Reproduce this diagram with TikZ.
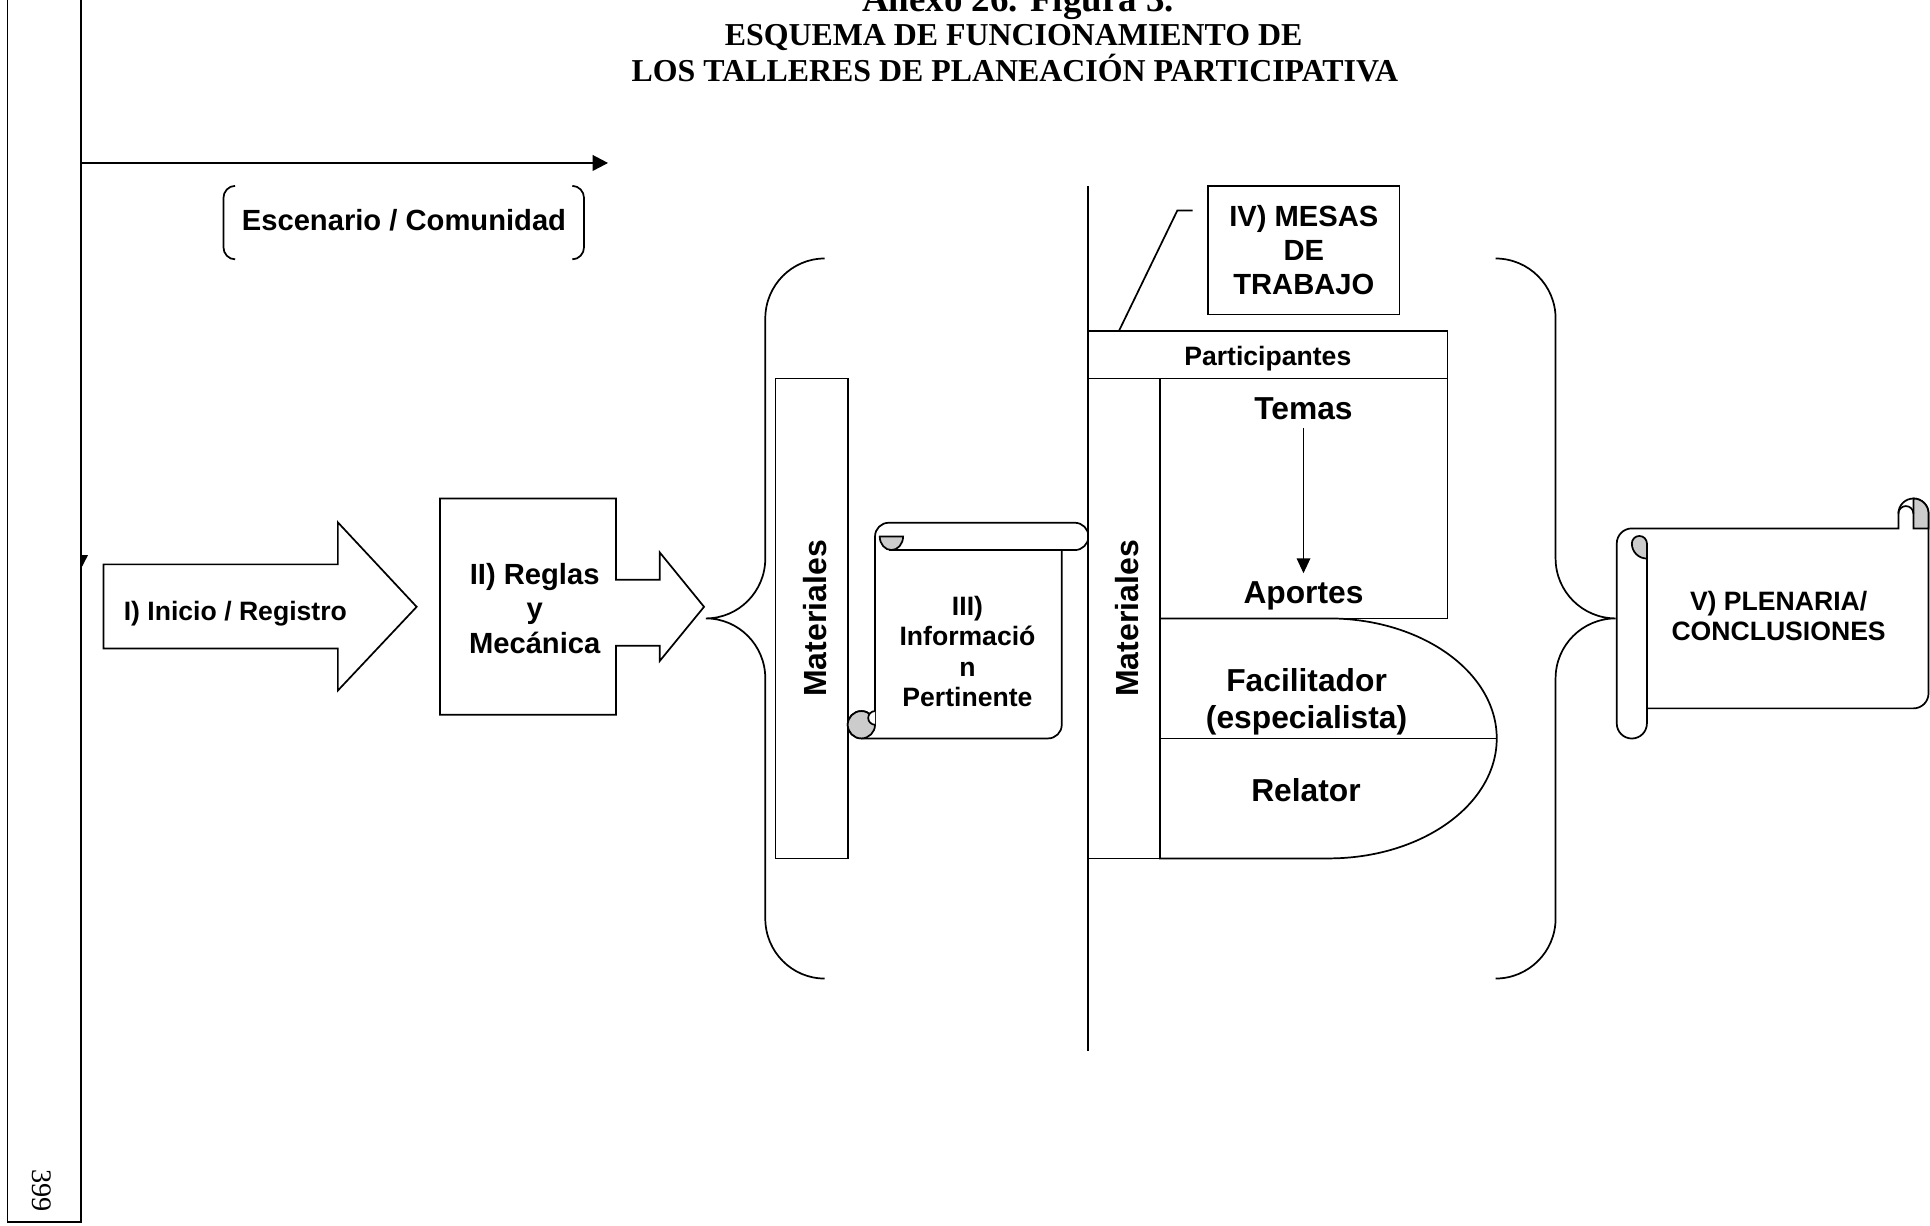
\documentclass[tikz,border=0pt]{standalone}
\usepackage{fontspec}
\setmainfont{Liberation Serif}
\setsansfont{Liberation Sans}
\usetikzlibrary{arrows.meta}

\begin{document}
\begin{tikzpicture}[
      x=1pt, y=-1pt,
      line width=1.4pt,
      >={Triangle[length=12.5pt,width=12.7pt]},
      caja/.style={draw,fill=white},
      rollo/.style={draw,fill=black!20},
      texto/.style={font=\sffamily\bfseries\fontsize{21.6}{24.6}\selectfont,align=center,inner sep=0pt},
      texto medio/.style={texto,font=\sffamily\bfseries\fontsize{23.7}{27.7}\selectfont},
      texto grande/.style={texto,font=\sffamily\bfseries\fontsize{25.8}{29.6}\selectfont},
      texto lateral/.style={texto,font=\sffamily\bfseries\fontsize{26}{30}\selectfont,rotate=90},
      titulo/.style={font=\bfseries\fontsize{25.9}{29.4}\selectfont,inner sep=0pt,anchor=base}
      ]
      % page
      \useasboundingbox (0,0) rectangle (1568,996);
      \fill[white] (0,0) rectangle (1568,996);
      % title
      \node[titulo,font=\bfseries\fontsize{30}{34}\selectfont] (anexo) at (827,9.5) {Anexo 26. Figura 3.};
      \foreach \n/\x/\y/\t in {2/823.5/36.6/ESQUEMA DE FUNCIONAMIENTO DE,3/824.5/66/LOS TALLERES DE PLANEACIÓN PARTICIPATIVA} {
          \node[titulo] (titulo\n) at (\x,\y) {\t};
      }
      % side bar
      \draw[caja] (6,-10) rectangle (65.8,992.6);
      \node[font=\fontsize{23}{27}\selectfont,rotate=-90,inner sep=0pt] (pagina) at (33.9,967.5) {399};
      \fill (65.8,451) -- (71.5,451) -- (65.8,462) -- cycle;
      % escenario
      \coordinate (barra) at (65.8,132.4);
      \coordinate (escenario fin) at (494,132.4);
      \draw[->] (barra) -- (escenario fin);
      \draw (191,151) arc[start angle=-90,end angle=-180,x radius=9.5,y radius=10] -- (181.5,200.7) arc[start angle=180,end angle=90,x radius=9.5,y radius=10];
      \draw (465,151) arc[start angle=-90,end angle=0,x radius=9.5,y radius=10] -- (474.5,200.7) arc[start angle=0,end angle=90,x radius=9.5,y radius=10];
      \node[texto medio,anchor=base] (escenario) at (328.2,187) {Escenario / Comunidad};
      % I
      \draw[caja] (84,458.5) -- (274.5,458.5) -- (274.5,424.4) -- (338.5,493) -- (274.5,561) -- (274.5,526.8) -- (84,526.8) -- cycle;
      \node[texto,anchor=base] (inicio) at (191.2,503.8) {I) Inicio / Registro};
      % II
      \draw[caja] (357.5,405) -- (500.5,405) -- (500.5,471) -- (536,471) -- (536,448.8) -- (572,493) -- (536,537) -- (536,524.6) -- (500.5,524.6) -- (500.5,580.7) -- (357.5,580.7) -- cycle;
      \node[texto medio] (reglas) at (434.4,494.4) {II) Reglas\\y\\Mecánica};
      % left brace
      \draw (670,210) arc[start angle=-90,end angle=-180,x radius=48.25,y radius=48.75] -- (621.75,453.65)
            arc[start angle=0,end angle=90,x radius=48.25,y radius=48.75]
            arc[start angle=-90,end angle=0,x radius=48.25,y radius=48.75] -- (621.75,746.25)
            arc[start angle=180,end angle=90,x radius=48.25,y radius=48.75];
      % materiales 1
      \draw[caja] (630,307.4) rectangle (689,697.4);
      \node[texto lateral] (materiales1) at (662.5,502.4) {Materiales};
      % III
      \draw[caja] (710.9,588.8) -- (710.9,435.8) arc[start angle=180,end angle=270,radius=11.1] -- (873.2,424.7)
            arc[start angle=-90,end angle=90,radius=11.1] -- (862.6,446.9) -- (862.6,588.8)
            arc[start angle=0,end angle=90,radius=11.1] -- (699.8,599.9)
            arc[start angle=90,end angle=360,radius=11.1] -- cycle;
      \draw (722,446.9) -- (862.6,446.9);
      \draw[rollo] (699.8,588.8) circle[radius=11.1];
      \draw[fill=white] (710.9,577.7) arc[start angle=-90,end angle=-270,radius=5.55];
      \draw[rollo] (714.7,435.8) arc[start angle=180,end angle=0,x radius=9.5,y radius=11.1] -- cycle;
      \node[texto] (informacion) at (786,529.4) {III)\\Informació\\n\\Pertinente};
      % divider
      \draw (884,151) -- (884,854);
      % IV
      \node[caja,texto medio,minimum width=155.5pt,minimum height=104.4pt] (mesas) at (1059.25,203.2) {IV) MESAS\\DE\\TRABAJO};
      \coordinate (llamada) at (909,269);
      \draw (969,171) -- (956.5,171) -- (llamada);
      % participantes
      \draw[caja] (884,269) rectangle (1176,307.4);
      \node[texto,anchor=base] (participantes) at (1030,296.6) {Participantes};
      % materiales 2
      \draw[caja] (884,307.4) rectangle (942.5,697.4);
      \node[texto lateral] (materiales2) at (915.3,502.4) {Materiales};
      % temas / aportes
      \draw[caja] (942.5,307.4) rectangle (1176,502.4);
      \node[texto grande,anchor=base,inner sep=6pt] (temas) at (1059,340.8) {Temas};
      \node[texto grande,anchor=base,inner sep=6pt] (aportes) at (1059,490.2) {Aportes};
      \draw[->,>={Triangle[length=12.2pt,width=11pt]}] (temas) -- (aportes);
      % facilitador / relator
      \draw[caja] (942.5,502.4) -- (1079.3,502.4) arc[start angle=-90,end angle=90,x radius=136.7,y radius=97.5] -- (942.5,697.4) -- cycle;
      \draw (942.5,599.9) -- (1216,599.9);
      \node[texto grande] (facilitador) at (1061.5,570) {Facilitador\\(especialista)};
      \node[texto grande,anchor=base] (relator) at (1061,651.4) {Relator};
      % right brace
      \draw (1215,210) arc[start angle=-90,end angle=0,x radius=48.8,y radius=48.75] -- (1263.8,453.65)
            arc[start angle=180,end angle=90,x radius=48.8,y radius=48.75]
            arc[start angle=270,end angle=180,x radius=48.8,y radius=48.75] -- (1263.8,746.25)
            arc[start angle=0,end angle=90,x radius=48.8,y radius=48.75];
      % V
      \draw[caja] (1325.75,429.3) -- (1542.3,429.3) -- (1542.3,417.25) arc[start angle=180,end angle=360,radius=12.25] -- (1566.8,563.25)
            arc[start angle=0,end angle=90,radius=12.25] -- (1338,575.5) -- (1338,587.75)
            arc[start angle=0,end angle=180,radius=12.25] -- (1313.5,441.55)
            arc[start angle=180,end angle=270,radius=12.25] -- cycle;
      \draw (1338,453.8) -- (1338,575.5);
      \draw[rollo] (1325.75,441.55) arc[start angle=180,end angle=360,radius=6.125] -- (1338,453.8) arc[start angle=90,end angle=180,radius=12.25] -- cycle;
      \draw[rollo] (1554.55,429.3) -- (1554.55,405) arc[start angle=270,end angle=360,radius=12.25] -- (1566.8,429.3) -- cycle;
      \draw (1542.3,417.25) arc[start angle=180,end angle=360,radius=6.1];
      \node[texto] (plenaria) at (1445,500.7) {V) PLENARIA/\\CONCLUSIONES};
    \end{tikzpicture}
\end{document}
